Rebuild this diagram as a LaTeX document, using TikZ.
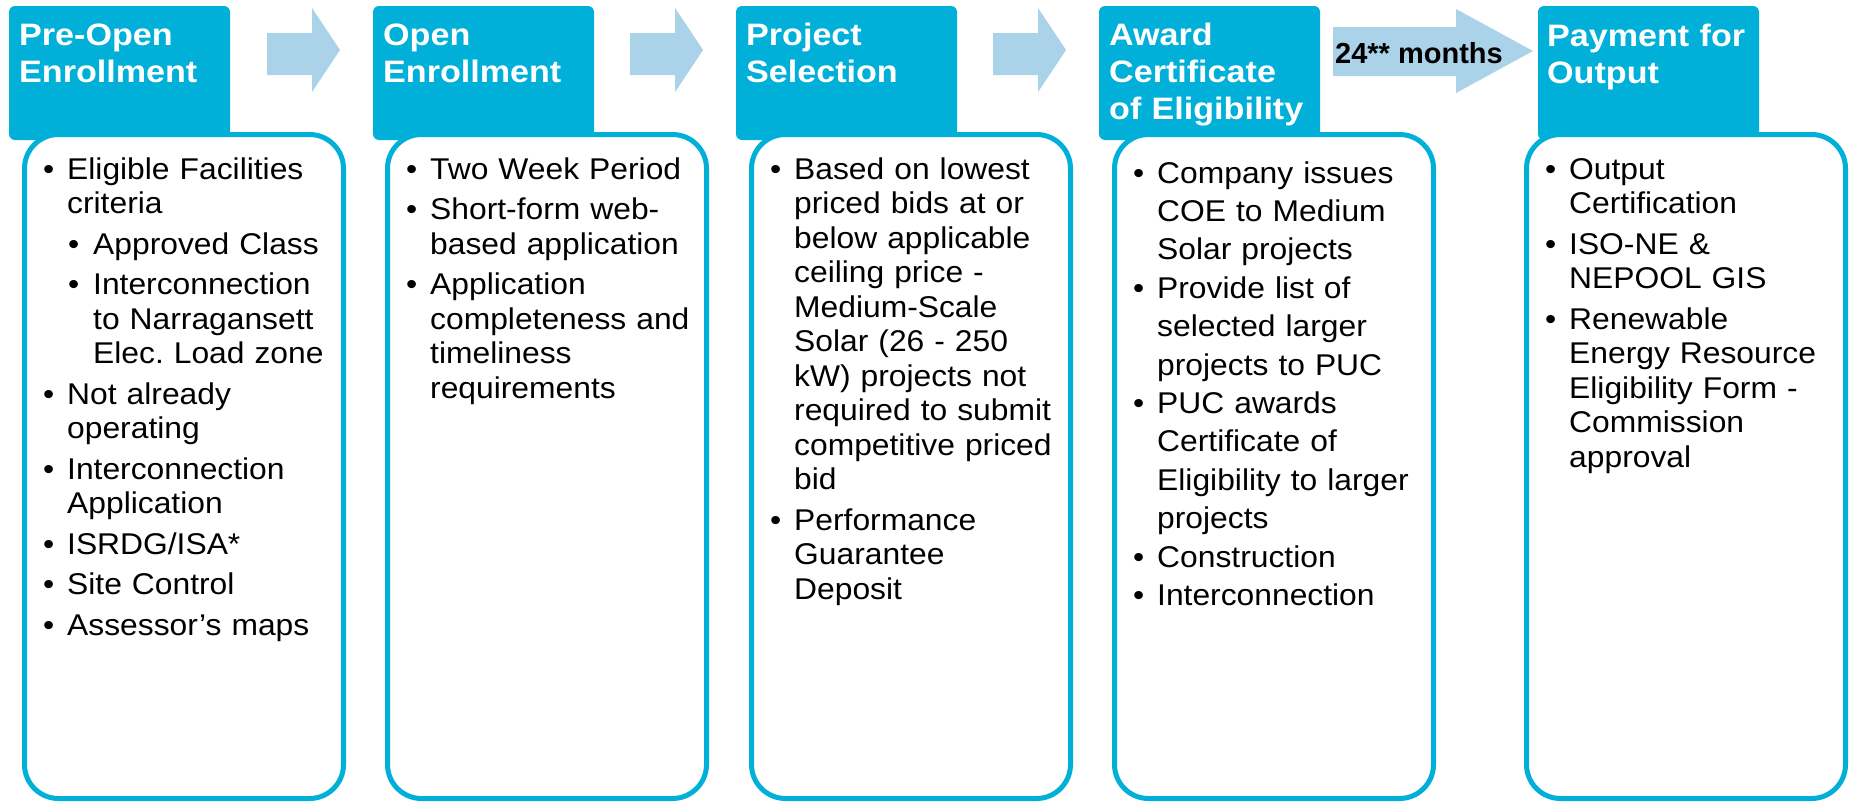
\documentclass[tikz,border=0pt]{standalone}
\usepackage{fontspec}
\setmainfont{Liberation Sans}
\newfontfamily\bodyfont{Liberation Sans}[FakeStretch=1.06]
\newfontfamily\headfont{Liberation Sans}[FakeStretch=1.10]
\usetikzlibrary{positioning}
\definecolor{stagecyan}{RGB}{0,176,216}
\definecolor{flowblue}{RGB}{170,210,232}
\tikzset{>=stealth}
\frenchspacing

\newcommand{\bitem}[1]{\hangindent=24pt\hangafter=1\noindent\makebox[24pt][l]{\textbullet}#1\par}
\newcommand{\sitem}[1]{\hangindent=50pt\hangafter=1\noindent\hspace*{25pt}\makebox[25pt][l]{\textbullet}#1\par}

\tikzset{
  headbox/.style={anchor=north west, minimum width=221pt, minimum height=134pt, fill=stagecyan, rounded corners=6pt, inner sep=0, outer sep=0},
  bodybox/.style={anchor=north west, minimum width=319pt, minimum height=664pt, draw=stagecyan, line width=5pt, fill=white, rounded corners=34pt, inner sep=0, outer sep=0},
  headtext/.style={anchor=base west, text width=215pt, inner sep=0, align=left, text=white, font=\headfont\bfseries\fontsize{31}{37}\selectfont},
  bodytext/.style={anchor=base west, text width=300pt, inner sep=0, align=left, font=\bodyfont\fontsize{30}{34.5}\selectfont},
  tallbody/.style={bodytext, font=\bodyfont\fontsize{30}{38.4}\selectfont}
}

\begin{document}
\begin{tikzpicture}[x=1pt, y=-1pt]
\useasboundingbox (0,0) rectangle (1850,803);

% stage headers
\node[headbox] (pre) at (9,6) {};
\node[headbox] (open) at (373,6) {};
\node[headbox] (sel) at (736,6) {};
\node[headbox] (award) at (1099,6) {};
\node[headbox] (pay) at (1538,6) {};

% stage bodies
\node[bodybox] (preb) at (24.5,134.5) {};
\node[bodybox] (openb) at (387.5,134.5) {};
\node[bodybox] (selb) at (751.5,134.5) {};
\node[bodybox] (awardb) at (1114.5,134.5) {};
\node[bodybox] (payb) at (1526.5,134.5) {};

\node[headtext] (pret) at (19,45) {Pre-Open\newline Enrollment};
\node[headtext] (opent) at (383,45) {Open\newline Enrollment};
\node[headtext] (selt) at (746,45) {Project\newline Selection};
\node[headtext] (awardt) at (1109,45) {Award\newline Certificate\newline of Eligibility};
\node[headtext] (payt) at (1547,46) {Payment for\newline Output};

% flow arrows
\fill[flowblue] (267,33)--(312,33)--(312,8)--(340,50)--(312,92)--(312,75)--(267,75)--cycle;
\fill[flowblue] (630,33)--(675,33)--(675,8)--(703,50)--(675,92)--(675,75)--(630,75)--cycle;
\fill[flowblue] (993,33)--(1038,33)--(1038,8)--(1066,50)--(1038,92)--(1038,75)--(993,75)--cycle;
\fill[flowblue] (1333,27)--(1456,27)--(1456,9)--(1533,51)--(1456,93)--(1456,76)--(1333,76)--cycle;
\node[anchor=base west, inner sep=0, font=\bfseries\fontsize{29}{34}\selectfont] (wait) at (1335,63) {24** months};

\node[bodytext] (prel) at (43,179) {\setlength{\parskip}{6pt}%
\bitem{Eligible Facilities\newline criteria}
\sitem{Approved Class}
\sitem{Interconnection\newline to Narragansett\newline Elec. Load zone}
\bitem{Not already\newline operating}
\bitem{Interconnection\newline Application}
\bitem{ISRDG/ISA*}
\bitem{Site Control}
\bitem{Assessor’s maps}};

\node[bodytext] (openl) at (406,179) {\setlength{\parskip}{6pt}%
\bitem{Two Week Period}
\bitem{Short-form web-\newline based application}
\bitem{Application\newline completeness and\newline timeliness\newline requirements}};

\node[bodytext] (sell) at (770,179) {\setlength{\parskip}{6pt}%
\bitem{Based on lowest\newline priced bids at or\newline below applicable\newline ceiling price -\newline Medium-Scale\newline Solar (26 - 250\newline kW) projects not\newline required to submit\newline competitive priced\newline bid}
\bitem{Performance\newline Guarantee\newline Deposit}};

\node[tallbody] (awardl) at (1133,183) {%
\bitem{Company issues\newline COE to Medium\newline Solar projects}
\bitem{Provide list of\newline selected larger\newline projects to PUC}
\bitem{PUC awards\newline Certificate of\newline Eligibility to larger\newline projects}
\bitem{Construction}
\bitem{Interconnection}};

\node[bodytext] (payl) at (1545,179) {\setlength{\parskip}{6pt}%
\bitem{Output\newline Certification}
\bitem{ISO-NE \&\newline NEPOOL GIS}
\bitem{Renewable\newline Energy Resource\newline Eligibility Form -\newline Commission\newline approval}};

\end{tikzpicture}
\end{document}
